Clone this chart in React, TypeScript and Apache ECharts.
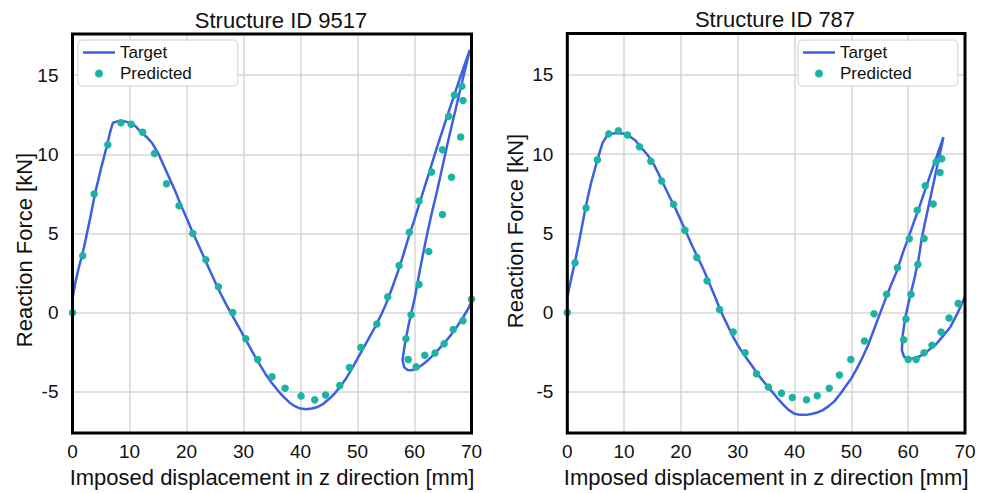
import React, { useEffect, useRef } from "react";
import * as echarts from "echarts";

// ---------- Data ----------
const xTicks = [0, 10, 20, 30, 40, 50, 60, 70];
const yTicks = [-5, 0, 5, 10, 15];

// Structure ID 9517
const leftTargetX = [0, 0.5, 1, 2, 3, 4, 5, 6, 6.6, 7.1, 8, 9, 10, 11, 12, 13, 14, 15, 16, 17, 18, 19, 20, 21, 22, 23, 24, 25, 26, 27, 28, 29, 30, 31, 32, 33, 34, 35, 36, 37, 38, 39, 40, 41, 42, 43, 44, 45, 46, 47, 48, 49, 50, 51, 52, 53, 54, 55, 56, 57, 58, 59, 60, 62, 64, 66, 68, 69.7, 68, 66, 64, 63, 62, 61, 60, 59, 58.3, 57.9, 58.2, 58.8, 59.5, 60.5, 61.5, 62.5, 63.5, 64.5, 65.5, 66.5, 67.5, 68.5, 69.5, 70];
const leftTargetY = [0.9, 1.9, 2.7, 4.1, 5.8, 7.6, 9.1, 10.5, 11.4, 12.0, 12.1, 12.1, 12.0, 11.8, 11.4, 11.1, 10.7, 10.1, 9.3, 8.5, 7.7, 6.8, 6.0, 5.15, 4.35, 3.55, 2.75, 1.95, 1.2, 0.5, -0.15, -0.8, -1.45, -2.1, -2.75, -3.35, -3.95, -4.45, -4.9, -5.3, -5.65, -5.9, -6.05, -6.1, -6.05, -5.95, -5.75, -5.45, -5.1, -4.65, -4.15, -3.55, -2.9, -2.25, -1.6, -0.95, -0.25, 0.55, 1.5, 2.5, 3.6, 4.8, 5.9, 8.2, 10.5, 12.7, 14.85, 16.6, 14.05, 11.0, 7.75, 6.25, 4.6, 2.8, 0.85, -0.7, -2.0, -3.0, -3.45, -3.62, -3.63, -3.5, -3.25, -2.95, -2.6, -2.2, -1.8, -1.35, -0.85, -0.3, 0.3, 0.75];
const leftPredX = [0, 1.8, 3.8, 6.2, 8.5, 10.3, 12.3, 14.4, 16.5, 18.7, 21.1, 23.4, 25.6, 28.1, 30.4, 32.5, 35.0, 37.3, 40.1, 42.5, 44.4, 46.9, 48.6, 50.6, 53.4, 55.3, 57.3, 59.1, 60.8, 63.0, 64.9, 66.0, 67.0, 68.3, 68.5, 68.1, 66.5, 64.9, 62.5, 60.8, 59.4, 58.5, 58.9, 60.3, 61.8, 63.6, 65.2, 66.8, 68.5, 70.0];
const leftPredY = [0, 3.6, 7.5, 10.6, 12.0, 11.9, 11.4, 10.06, 8.14, 6.75, 5.0, 3.35, 1.64, 0.02, -1.65, -2.96, -4.04, -4.77, -5.25, -5.5, -5.19, -4.6, -3.46, -2.2, -0.71, 1.0, 2.98, 5.08, 7.06, 8.88, 10.29, 12.4, 13.75, 14.3, 13.4, 11.1, 8.56, 6.2, 3.87, 1.79, -0.13, -1.65, -2.96, -3.42, -2.69, -2.54, -1.96, -1.06, -0.5, 0.85];

// Structure ID 787
const rightTargetX = [0, 0.6, 1.36, 2.2, 3.2, 4.2, 5.3, 6.2, 7, 8, 9, 10, 11, 12, 13, 14, 15, 16, 17, 18, 19, 20, 21, 22, 23, 24, 25, 26, 27, 28, 29, 30, 31, 32, 33, 34, 35, 36, 37, 38, 39, 40, 41, 42, 43, 44, 45, 46, 47, 48, 49, 50, 51, 52, 53, 54, 55, 56, 57, 58, 59, 60, 62, 64, 66.2, 65, 64, 63, 62.4, 61.8, 61, 60.3, 59.5, 59, 58.9, 59.3, 60, 61, 62.1, 63.5, 65, 66.2, 67.4, 68.6, 70];
const rightTargetY = [0.96, 2.0, 3.2, 4.7, 6.6, 8.2, 9.64, 10.7, 11.15, 11.3, 11.33, 11.28, 11.1, 10.85, 10.4, 10.0, 9.5, 8.8, 8.05, 7.3, 6.6, 5.8, 5.0, 4.2, 3.45, 2.7, 1.85, 1.0, 0.1, -0.65, -1.4, -2.05, -2.6, -3.1, -3.6, -4.1, -4.55, -4.97, -5.4, -5.8, -6.15, -6.38, -6.45, -6.45, -6.4, -6.3, -6.15, -5.9, -5.6, -5.15, -4.65, -4.15, -3.5, -2.8, -2.0, -1.05, -0.1, 0.85, 1.75, 2.6, 3.7, 4.7, 6.7, 8.8, 11.06, 9.05, 7.4, 5.75, 4.7, 3.3, 2.0, 1.0, -0.3, -1.5, -2.4, -2.8, -2.92, -2.88, -2.75, -2.4, -1.96, -1.45, -0.92, -0.1, 1.0];
const rightPredX = [0, 1.36, 3.3, 5.3, 7.3, 9.0, 10.6, 12.7, 14.7, 16.6, 18.7, 20.7, 22.8, 24.6, 26.8, 29.2, 31.3, 33.3, 35.4, 37.7, 39.6, 42.1, 44.0, 46.1, 47.9, 49.9, 52.3, 54.0, 56.2, 58.1, 60.2, 61.6, 63.0, 64.9, 65.9, 65.6, 64.4, 62.8, 61.7, 60.5, 59.6, 59.2, 60.0, 61.4, 62.8, 64.2, 65.8, 67.2, 68.8];
const rightPredY = [0, 3.14, 6.6, 9.64, 11.27, 11.46, 11.2, 10.46, 9.54, 8.3, 6.83, 5.2, 3.48, 2.0, 0.19, -1.23, -2.54, -3.86, -4.69, -5.08, -5.36, -5.5, -5.25, -4.77, -3.94, -2.96, -1.79, -0.08, 1.16, 2.83, 4.65, 6.45, 8.0, 9.5, 9.7, 8.83, 6.85, 4.67, 3.04, 1.16, -0.4, -1.71, -2.96, -2.96, -2.54, -2.06, -1.23, -0.34, 0.58];

const titles = ["Structure ID 9517", "Structure ID 787"];
const xName = "Imposed displacement in z direction [mm]";
const yName = "Reaction Force [kN]";
const legendNames = ["Target", "Predicted"];

const zip = (xs: number[], ys: number[]) => xs.map((x, i) => [x, ys[i]]);

const FONT = "'Liberation Sans', Arial, Helvetica, sans-serif";
const LINE_COLOR = "#3d5fe0";
const DOT_COLOR = "#1db3a3";
const GRID_COLOR = "#d6d6d6";

export default function App() {
  const ref = useRef<HTMLDivElement>(null);

  useEffect(() => {
    if (!ref.current) return;
    const chart = echarts.init(ref.current, null, { renderer: "svg" });

    const grids = [
      { left: 72.5, top: 34, width: 399, height: 403 },
      { left: 567.3, top: 33.5, width: 397.7, height: 403.5 },
    ];

    const xAxis = grids.map((_, i) => ({
      type: "value",
      gridIndex: i,
      min: xTicks[0],
      max: xTicks[xTicks.length - 1],
      interval: 10,
      name: xName,
      nameLocation: "middle",
      nameGap: 30,
      nameTextStyle: { fontFamily: FONT, fontSize: 22, color: "#111" },
      axisLine: { show: false },
      axisTick: { show: false },
      axisLabel: { fontFamily: FONT, fontSize: 19, color: "#111", margin: 9 },
      splitLine: { show: true, lineStyle: { color: GRID_COLOR, width: 1.5 } },
    }));

    const yAxis = grids.map((_, i) => ({
      type: "value",
      gridIndex: i,
      min: -7.6,
      max: 17.6,
      splitNumber: yTicks.length,
      axisLine: { show: false },
      axisTick: { show: false },
      axisLabel: {
        fontFamily: FONT,
        fontSize: 19,
        color: "#111",
        margin: 14,
        showMinLabel: false,
        showMaxLabel: false,
      },
      splitLine: { show: true, lineStyle: { color: GRID_COLOR, width: 1.5 } },
    }));

    const lineSeries = (i: number, data: number[][]) => ({
      type: "line",
      name: legendNames[0],
      xAxisIndex: i,
      yAxisIndex: i,
      data,
      symbol: "none",
      showSymbol: false,
      smooth: false,
      lineStyle: { color: LINE_COLOR, width: 2.5 },
      itemStyle: { color: LINE_COLOR },
      z: 2,
    });
    const scatterSeries = (i: number, data: number[][]) => ({
      type: "scatter",
      name: legendNames[1],
      xAxisIndex: i,
      yAxisIndex: i,
      data,
      symbol: "circle",
      symbolSize: 7.5,
      itemStyle: { color: DOT_COLOR, opacity: 1 },
      z: 3,
    });

    const legendBase = {
      orient: "vertical",
      top: 40,
      padding: [4, 46, 4, 5],
      itemGap: 4,
      itemWidth: 32,
      itemHeight: 8,
      backgroundColor: "rgba(255,255,255,0.92)",
      borderColor: "#d0d0d0",
      borderWidth: 1,
      borderRadius: 4,
      textStyle: { fontFamily: FONT, fontSize: 17, color: "#111" },
      data: [
        { name: legendNames[0], icon: "path://M0,0h32v2.5h-32z", itemStyle: { color: LINE_COLOR } },
        { name: legendNames[1], icon: "circle", itemStyle: { color: DOT_COLOR } },
      ],
      selectedMode: false,
      z: 10,
    };

    const titleText = (text: string, x: number, y: number) => ({
      type: "text",
      x,
      y,
      style: {
        text,
        fontFamily: FONT,
        fontSize: 22,
        fill: "#111",
        align: "center",
        verticalAlign: "middle",
      },
    });
    const yNameText = (x: number, y: number) => ({
      type: "text",
      x,
      y,
      rotation: Math.PI / 2,
      style: {
        text: yName,
        fontFamily: FONT,
        fontSize: 22,
        fill: "#111",
        align: "center",
        verticalAlign: "middle",
      },
    });

    const option = {
      animation: false,
      backgroundColor: "#ffffff",
      grid: grids.map((g) => ({
        ...g,
        show: true,
        borderColor: "#000",
        borderWidth: 3,
        backgroundColor: "transparent",
        z: 4,
      })),
      xAxis,
      yAxis,
      legend: [
        { ...legendBase, left: 78 },
        { ...legendBase, left: 798 },
      ],
      series: [
        lineSeries(0, zip(leftTargetX, leftTargetY)),
        scatterSeries(0, zip(leftPredX, leftPredY)),
        lineSeries(1, zip(rightTargetX, rightTargetY)),
        scatterSeries(1, zip(rightPredX, rightPredY)),
      ],
      graphic: [
        titleText(titles[0], 281, 20),
        titleText(titles[1], 775, 19.5),
        yNameText(24, 250),
        yNameText(515, 231),
      ],
    };

    chart.setOption(option as any);
    return () => chart.dispose();
  }, []);

  return (
    <div
      ref={ref}
      style={{ position: "fixed", left: 0, top: 0, width: 984, height: 493, background: "#fff" }}
    />
  );
}
